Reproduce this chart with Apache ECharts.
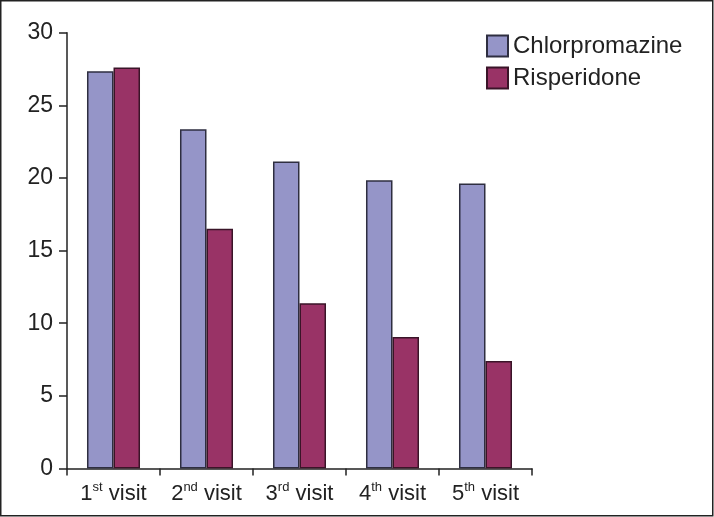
<!DOCTYPE html>
<html>
<head>
<meta charset="utf-8">
<script src="https://cdn.jsdelivr.net/npm/echarts@6/dist/echarts.min.js"></script>
<style>
html,body{margin:0;padding:0;background:#fff;}
#c{width:714px;height:517px;}
</style>
</head>
<body>
<div id="c"></div>
<script>
var categories = ['1st visit', '2nd visit', '3rd visit', '4th visit', '5th visit'];
var chlorpromazine = [27.34, 23.35, 21.13, 19.84, 19.62];
var risperidone = [27.6, 16.51, 11.37, 9.05, 7.4];
var seriesNames = ['Chlorpromazine', 'Risperidone'];
var yTicks = [0, 5, 10, 15, 20, 25, 30];

var FONT = '"Liberation Sans", Arial, sans-serif';
var chart = echarts.init(document.getElementById('c'));
chart.setOption({
  animation: false,
  backgroundColor: '#fff',
  textStyle: {fontFamily: FONT},
  graphic: [{
    type: 'rect',
    shape: {x: 0.75, y: 0.75, width: 712, height: 515},
    style: {fill: 'none', stroke: '#222', lineWidth: 1.5},
    silent: true
  }],
  legend: {
    orient: 'vertical',
    left: 481,
    top: 29,
    itemWidth: 21,
    itemHeight: 21,
    itemGap: 8,
    icon: 'rect',
    textStyle: {fontSize: 24, color: '#222', fontFamily: FONT, lineHeight: 24},
    data: seriesNames
  },
  grid: {left: 67, top: 32.7, right: 182, bottom: 48.5, containLabel: false},
  xAxis: {
    type: 'category',
    data: categories,
    axisLine: {lineStyle: {color: '#222', width: 1.5}},
    axisTick: {show: true, length: 7, inside: false, interval: 0, lineStyle: {color: '#222', width: 1.5}},
    axisLabel: {
      margin: 12,
      interval: 0,
      color: '#222',
      formatter: function (v) {
        var m = v.match(/^(\d)(st|nd|rd|th)(.*)$/);
        return '{n|' + m[1] + '}{s|' + m[2] + '}{n|' + m[3] + '}';
      },
      rich: {
        n: {fontSize: 22, fontFamily: FONT, color: '#222', lineHeight: 24, verticalAlign: 'bottom'},
        s: {fontSize: 13, fontFamily: FONT, color: '#222', lineHeight: 24, verticalAlign: 'top'}
      }
    }
  },
  yAxis: {
    type: 'value',
    min: yTicks[0],
    max: yTicks[yTicks.length - 1],
    interval: 5,
    splitLine: {show: false},
    axisLine: {show: true, lineStyle: {color: '#222', width: 1.5}},
    axisTick: {show: true, length: 8, inside: false, lineStyle: {color: '#222', width: 1.5}},
    axisLabel: {margin: 14, fontSize: 23, color: '#222', fontFamily: FONT}
  },
  series: [{
    name: seriesNames[0],
    type: 'bar',
    data: chlorpromazine,
    barGap: '0%',
    barCategoryGap: '43%',
    itemStyle: {color: '#9595c8', borderColor: '#2e2e40', borderWidth: 1.5}
  }, {
    name: seriesNames[1],
    type: 'bar',
    data: risperidone,
    barGap: '0%',
    barCategoryGap: '43%',
    itemStyle: {color: '#993366', borderColor: '#3a1428', borderWidth: 1.5}
  }]
});
</script>
</body>
</html>
